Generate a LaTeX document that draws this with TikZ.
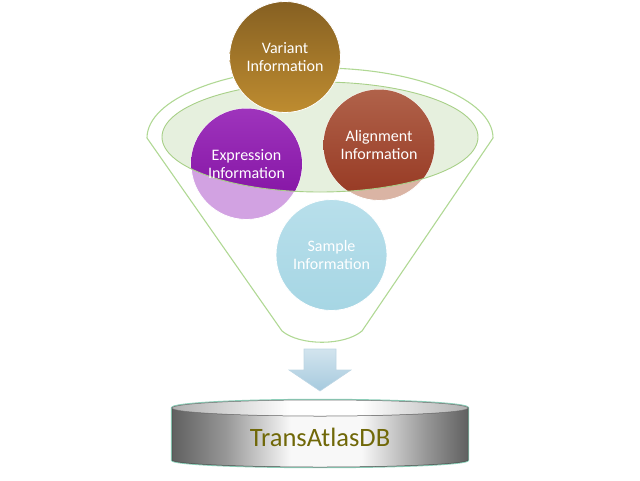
\documentclass[tikz,border=0pt]{standalone}
\usepackage{fontspec}
\setmainfont{Carlito}
\definecolor{varTop}{RGB}{134,96,34}
\definecolor{varBot}{RGB}{190,140,48}
\definecolor{expTop}{RGB}{158,52,188}
\definecolor{expBot}{RGB}{128,14,160}
\definecolor{expPale}{RGB}{210,162,226}
\definecolor{aliTop}{RGB}{176,98,74}
\definecolor{aliBot}{RGB}{150,56,34}
\definecolor{aliPale}{RGB}{218,180,164}
\definecolor{samTop}{RGB}{184,223,235}
\definecolor{samBot}{RGB}{166,214,228}
\definecolor{rimFill}{RGB}{230,240,222}
\definecolor{rimLine}{RGB}{168,208,136}
\definecolor{funLine}{RGB}{176,216,148}
\definecolor{arrTop}{RGB}{210,228,238}
\definecolor{arrBot}{RGB}{166,202,222}
\definecolor{arrLine}{RGB}{190,214,228}
\definecolor{dbDark}{RGB}{96,96,96}
\definecolor{dbMid}{RGB}{150,150,150}
\definecolor{dbLight}{RGB}{248,248,248}
\definecolor{dbTopDark}{RGB}{176,176,176}
\definecolor{dbGlow}{RGB}{140,206,184}
\definecolor{dbText}{RGB}{112,104,8}
\pgfdeclarehorizontalshading{dbbody}{100bp}{color(0bp)=(dbDark); color(25bp)=(dbDark); color(34bp)=(dbMid); color(45bp)=(dbLight); color(57bp)=(dbLight); color(68bp)=(dbMid); color(75bp)=(dbDark); color(100bp)=(dbDark)}
\pgfdeclarehorizontalshading{dbtop}{100bp}{color(0bp)=(dbTopDark); color(25bp)=(dbTopDark); color(45bp)=(white); color(57bp)=(white); color(75bp)=(dbTopDark); color(100bp)=(dbTopDark)}
\tikzset{
  ctext/.style={text=white, align=center, font=\fontsize{16}{17.5}\selectfont},
  bubble/.style={circle, inner sep=0pt, minimum size=111pt, draw=white, line width=0.8pt},
}
\begin{document}
\begin{tikzpicture}[x=1pt,y=-1pt]
\useasboundingbox (0,0) rectangle (640,480);
% outer funnel
\draw[funLine, line width=1.1pt, line join=round]
  (147,138) arc[start angle=180, end angle=360, x radius=173, y radius=70]
  -- (362,331) .. controls (344,346) and (300,346) .. (282,331) -- cycle;
% funnel opening
\fill[rimFill] (320,137) ellipse[x radius=158, y radius=55];
% pale (seen through funnel) circles
\node[bubble, fill=expPale] (expc) at (246.5,164) {};
\node[bubble, fill=aliPale] (alic) at (379,145) {};
\node[bubble, top color=samTop, bottom color=samBot] (samc) at (331.5,255) {};
% saturated parts inside opening
\begin{scope}
  \clip (320,137) ellipse[x radius=158, y radius=55];
  \shade[top color=expTop, bottom color=expBot] (246.5,164) circle[radius=55.5];
  \shade[top color=aliTop, bottom color=aliBot] (379,145) circle[radius=55.5];
\end{scope}
\draw[rimLine, line width=0.9pt] (320,137) ellipse[x radius=158, y radius=55];
% top circle
\node[bubble, top color=varTop, bottom color=varBot] (varc) at (285,57) {};
% labels
\node[ctext] (vart) at (varc.center) {Variant\\Information};
\node[ctext] (expt) at (expc.center) {Expression\\Information};
\node[ctext] (alit) at (alic.center) {Alignment\\Information};
\node[ctext] (samt) at (samc.center) {Sample\\Information};
% block arrow
\shade[top color=arrTop, bottom color=arrBot, draw=arrLine, line width=0.6pt]
  (304,349) -- (336,349) -- (336,370) -- (351,370) -- (320,391) -- (289,370) -- (304,370) -- cycle;
% database cylinder
\path[draw=dbGlow, line width=2.4pt]
  (172,408) -- (172,460) arc[start angle=180, end angle=0, x radius=148, y radius=7]
  -- (468,408) arc[start angle=0, end angle=-180, x radius=148, y radius=8] -- cycle;
\shade[shading=dbbody, draw=black!70, line width=0.5pt]
  (172,408) -- (172,460) arc[start angle=180, end angle=0, x radius=148, y radius=7]
  -- (468,408) arc[start angle=0, end angle=180, x radius=148, y radius=8] -- cycle;
\shade[shading=dbtop, draw=black!55, line width=0.5pt]
  (320,408) ellipse[x radius=148, y radius=8];
\node[text=dbText, font=\fontsize{26.5}{30}\selectfont, anchor=base] (db) at (320,446) {TransAtlasDB};
\end{tikzpicture}
\end{document}
